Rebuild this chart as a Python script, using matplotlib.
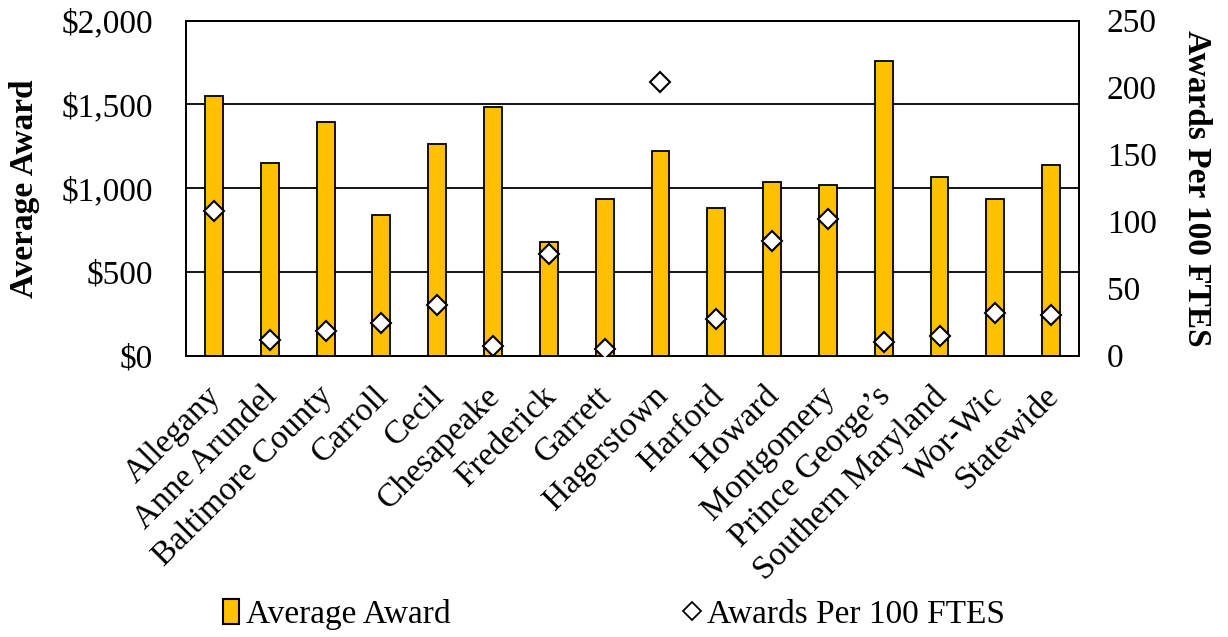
import numpy as np
import matplotlib
matplotlib.use("Agg")
import matplotlib.pyplot as plt
import matplotlib.transforms as mtransforms
from matplotlib.lines import Line2D
from matplotlib.patches import Patch

plt.rcParams["font.family"] = ["Liberation Serif", "DejaVu Serif"]

colleges = ["Allegany", "Anne Arundel", "Baltimore County", "Carroll", "Cecil",
            "Chesapeake", "Frederick", "Garrett", "Hagerstown", "Harford",
            "Howard", "Montgomery", "Prince George\u2019s", "Southern Maryland",
            "Wor-Wic", "Statewide"]
average_award = [1549, 1150, 1393, 842, 1266, 1487, 677, 934, 1222, 882,
                 1035, 1021, 1761, 1067, 937, 1140]
awards_per_100 = [108, 11.7, 18.7, 24.2, 37.8, 7.5, 75.7, 5.2, 204.5, 27.2,
                  85.8, 102.2, 10, 14.7, 32.1, 30.6]

BAR_COLOR = "#FFC000"
FS = 24

fig = plt.figure(figsize=(12.28, 6.37), dpi=100)
ax = fig.add_axes([0.1515, 0.4416, 0.7272, 0.5259])
ax2 = ax.twinx()

x = np.arange(len(colleges))
ax.bar(x, average_award, width=0.32, color=BAR_COLOR, edgecolor="black",
       linewidth=1.3, zorder=3)
ax.set_ylim(0, 2000)
ax.set_xlim(-0.5, len(colleges) - 0.5)
ax.set_yticks(np.arange(0, 2001, 500))
ax.set_yticklabels(["${:,}".format(v) for v in range(0, 2001, 500)])
ax.yaxis.grid(True, color="black", linewidth=1.3, zorder=0)
ax.set_axisbelow(True)
ax.set_xticks(x)
ax.set_xticklabels(colleges, rotation=45, ha="right", rotation_mode="anchor",
                   fontsize=FS)
ax.tick_params(axis="y", length=0, labelsize=FS, pad=24)
ax.tick_params(axis="x", length=0, labelsize=FS, pad=18)
# nudge category labels a little to the left
shift = mtransforms.ScaledTranslation(-6 / 72, 0, fig.dpi_scale_trans)
for lbl in ax.get_xticklabels():
    lbl.set_transform(lbl.get_transform() + shift)
ax.set_ylabel("Average Award", fontsize=FS, fontweight="bold", labelpad=15)

ax2.plot(x, awards_per_100, linestyle="none", marker="D", markersize=10,
         markerfacecolor="white", markeredgecolor="black",
         markeredgewidth=1.5, zorder=5)
ax2.set_ylim(0, 250)
ax2.set_yticks(np.arange(0, 251, 50))
ax2.tick_params(axis="y", length=0, labelsize=FS, pad=20)
ax2.set_ylabel("Awards Per 100 FTES", fontsize=FS, fontweight="bold",
               rotation=270, labelpad=40)
ax.set_zorder(ax2.get_zorder() - 1)
ax2.patch.set_visible(False)
ax.patch.set_visible(True)

for a in (ax, ax2):
    for s in a.spines.values():
        s.set_linewidth(1.3)

handles = [Patch(facecolor=BAR_COLOR, edgecolor="black", linewidth=1.5),
           Line2D([], [], linestyle="none", marker="D", markersize=9,
                  markerfacecolor="white", markeredgecolor="black",
                  markeredgewidth=1.3)]
fig.legend(handles, ["Average Award", "Awards Per 100 FTES"], ncol=2,
           loc="lower center", bbox_to_anchor=(0.5, -0.036), frameon=False,
           fontsize=FS, handlelength=0.5, handleheight=0.8, handletextpad=0.2,
           columnspacing=7.0)

fig.savefig("out.png", dpi=100)
